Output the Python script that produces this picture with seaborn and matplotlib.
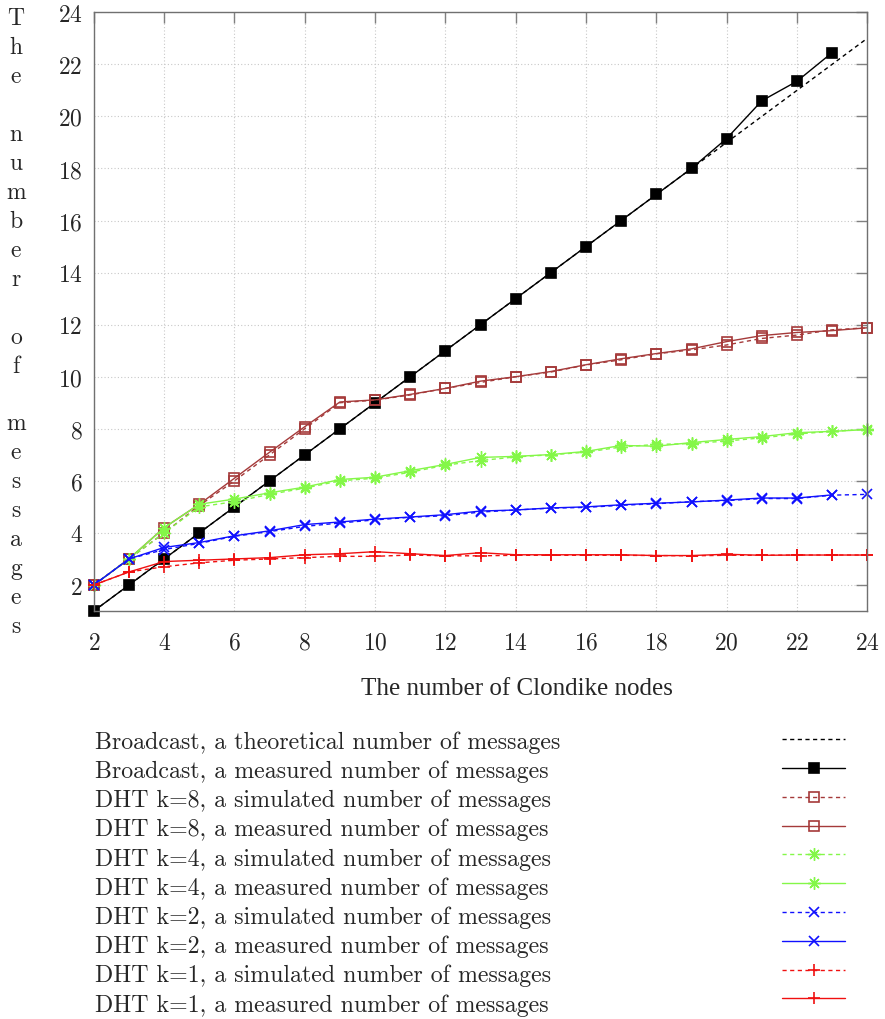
import seaborn as sns
import matplotlib.pyplot as plt
from matplotlib.lines import Line2D

sns.set_style("white")
plt.rcParams['font.family'] = ['cmr10', 'DejaVu Serif']
plt.rcParams['axes.formatter.use_mathtext'] = True
plt.rcParams['mathtext.fontset'] = 'cm'

nodes = [2, 3, 4, 5, 6, 7, 8, 9, 10, 11, 12, 13, 14, 15, 16, 17, 18, 19, 20, 21, 22, 23, 24]
nodes_to23 = nodes[:-1]

broadcast_theory = [1, 2, 3, 4, 5, 6, 7, 8, 9, 10, 11, 12, 13, 14, 15, 16, 17, 18, 19, 20, 21, 22, 23]
broadcast_measured = [1, 2, 3, 4, 5, 6, 7, 8, 9, 10, 11, 12, 13, 14, 15, 16, 17, 18, 19.15, 20.6, 21.35, 22.45]

k8_sim = [2, 3, 4.0, 5.05, 6.0, 7.0, 8.0, 9.0, 9.1, 9.3, 9.55, 9.78, 10.0, 10.18, 10.45, 10.65, 10.88, 11.03, 11.22, 11.47, 11.6, 11.8, 11.88]
k8_meas = [2, 3, 4.2, 5.1, 6.1, 7.1, 8.08, 9.03, 9.11, 9.32, 9.55, 9.83, 10.0, 10.2, 10.46, 10.69, 10.89, 11.07, 11.35, 11.58, 11.7, 11.77, 11.88]

k4_sim = [2, 3, 4.0, 5.0, 5.2, 5.48, 5.72, 6.0, 6.1, 6.33, 6.6, 6.78, 6.92, 7.0, 7.1, 7.3, 7.4, 7.43, 7.53, 7.65, 7.8, 7.9, 7.98]
k4_meas = [2, 3, 4.2, 5.1, 5.3, 5.54, 5.76, 6.05, 6.14, 6.39, 6.63, 6.9, 6.94, 7.01, 7.13, 7.36, 7.33, 7.47, 7.59, 7.7, 7.85, 7.9, 7.97]

k2_sim = [2, 3, 3.36, 3.6, 3.87, 4.05, 4.25, 4.38, 4.5, 4.6, 4.66, 4.8, 4.88, 4.95, 4.98, 5.06, 5.12, 5.2, 5.24, 5.32, 5.32, 5.45, 5.48]
k2_meas = [2, 3, 3.44, 3.63, 3.89, 4.08, 4.32, 4.42, 4.53, 4.61, 4.7, 4.84, 4.88, 4.96, 5.0, 5.08, 5.14, 5.19, 5.26, 5.34, 5.34, 5.46]

k1_sim = [2, 2.5, 2.7, 2.85, 2.95, 3.0, 3.05, 3.1, 3.1, 3.15, 3.12, 3.12, 3.14, 3.14, 3.14, 3.14, 3.13, 3.12, 3.14, 3.14, 3.15, 3.15, 3.15]
k1_meas = [2, 2.5, 2.9, 2.95, 3.0, 3.05, 3.16, 3.2, 3.28, 3.2, 3.13, 3.24, 3.16, 3.16, 3.16, 3.16, 3.13, 3.13, 3.18, 3.14, 3.15, 3.15, 3.15]

labels = [
    "Broadcast, a theoretical number of messages",
    "Broadcast, a measured number of messages",
    "DHT k=8, a simulated number of messages",
    "DHT k=8, a measured number of messages",
    "DHT k=4, a simulated number of messages",
    "DHT k=4, a measured number of messages",
    "DHT k=2, a simulated number of messages",
    "DHT k=2, a measured number of messages",
    "DHT k=1, a simulated number of messages",
    "DHT k=1, a measured number of messages",
]

BLACK = "#000000"
BROWN = "#a53a3a"
GREEN = "#84f748"
BLUE = "#1010ff"
RED = "#f01010"
asterisk = (8, 2, 0)
dash = (0, (3, 2.5))

series = [
    (nodes, broadcast_theory, BLACK, None, dash, 'full'),
    (nodes_to23, broadcast_measured, BLACK, 's', '-', 'full'),
    (nodes, k8_sim, BROWN, 's', dash, 'none'),
    (nodes, k8_meas, BROWN, 's', '-', 'none'),
    (nodes, k4_sim, GREEN, asterisk, dash, 'full'),
    (nodes, k4_meas, GREEN, asterisk, '-', 'full'),
    (nodes, k2_sim, BLUE, 'x', dash, 'full'),
    (nodes_to23, k2_meas, BLUE, 'x', '-', 'full'),
    (nodes, k1_sim, RED, '+', dash, 'full'),
    (nodes, k1_meas, RED, '+', '-', 'full'),
]
marker_size = {'s': 7, 'x': 7.5, '+': 8}

fig = plt.figure(figsize=(8.85, 10.2), dpi=100)
ax = fig.add_axes([0.106, 0.4, 0.874, 0.587])

for (xs, ys, col, mk, ls, fill), lab in zip(series, labels):
    sns.lineplot(
        x=xs, y=ys, ax=ax, color=col, marker=mk, linestyle=ls,
        linewidth=1.0, markersize=marker_size.get(mk, 9), fillstyle=fill,
        markeredgecolor=col, markeredgewidth=1.0 if mk == asterisk else 1.2,
        label=lab, clip_on=False,
    )

handles, _ = ax.get_legend_handles_labels()
ax.get_legend().remove()

ax.set_xlim(2, 24)
ax.set_ylim(1, 24)
ax.set_xticks(range(2, 25, 2))
ax.set_yticks(range(2, 25, 2))
ax.grid(True, linestyle=(0, (1, 2)), color="#c8c8c8", linewidth=0.8)
for sp in ax.spines.values():
    sp.set_color("#707070")
    sp.set_linewidth(1.0)
ax.tick_params(direction="in", length=8, width=1, color="#808080",
               top=True, right=True, labelsize=17)
ax.tick_params(axis="x", pad=15)
ax.tick_params(axis="y", pad=8)

ax.set_xlabel("The number of Clondike nodes", fontsize=18,
              family=["Liberation Serif", "DejaVu Serif"])
ax.xaxis.set_label_coords(0.547, -0.11)

fig.text(16 / 885, 1 - 323 / 1020, "\n".join("The number of messages"),
         ha="center", va="center", fontsize=17, linespacing=1.40)

# text column (left aligned) and handle column (right) as two legends
blank = [Line2D([], [], linestyle="none") for _ in labels]
fig.legend(blank, labels, loc="upper left", bbox_to_anchor=(95 / 885, 0.283),
           frameon=False, fontsize=17.2, handlelength=0, handletextpad=0,
           labelspacing=0.28, borderpad=0, borderaxespad=0)
fig.legend(handles, [""] * len(labels), loc="upper left",
           bbox_to_anchor=(782 / 885, 0.283), frameon=False, fontsize=17.2,
           handlelength=2.64, handletextpad=0, labelspacing=0.28,
           borderpad=0, borderaxespad=0, numpoints=1, markerscale=1.0)

plt.savefig("out.png", dpi=100)
plt.close()
